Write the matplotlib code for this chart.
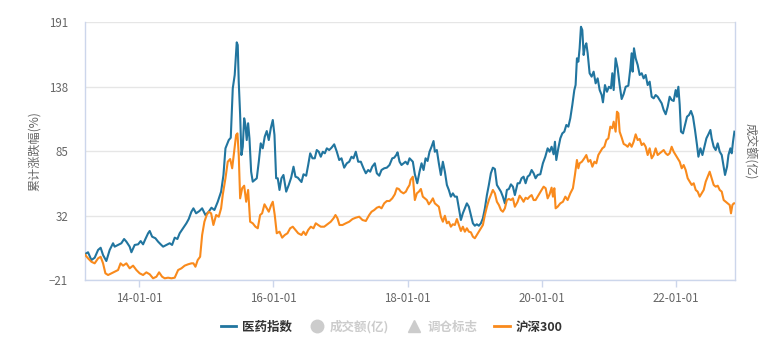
import matplotlib
matplotlib.use("Agg")
import matplotlib.pyplot as plt
from matplotlib.lines import Line2D

plt.rcParams['font.family'] = ['Noto Sans CJK SC', 'DejaVu Sans']

# ---------------- data (time in decimal years, values in %) ----------------
pharma_t = [
    2013.184, 2013.234, 2013.284, 2013.333, 2013.384, 2013.422, 2013.458, 2013.507, 2013.557, 2013.607,
    2013.631, 2013.682, 2013.731, 2013.772, 2013.806, 2013.855, 2013.881, 2013.930, 2013.981, 2014.019,
    2014.055, 2014.090, 2014.130, 2014.154, 2014.190, 2014.239, 2014.279, 2014.318, 2014.354, 2014.403,
    2014.452, 2014.488, 2014.527, 2014.567, 2014.601, 2014.652, 2014.701, 2014.736, 2014.776, 2014.806,
    2014.846, 2014.896, 2014.936, 2014.985, 2015.034, 2015.075, 2015.119, 2015.169, 2015.219, 2015.254,
    2015.284, 2015.303, 2015.333, 2015.363, 2015.393, 2015.422, 2015.452, 2015.467, 2015.482, 2015.503,
    2015.522, 2015.542, 2015.563, 2015.582, 2015.601, 2015.622, 2015.642, 2015.667, 2015.691, 2015.721,
    2015.751, 2015.781, 2015.810, 2015.840, 2015.870, 2015.900, 2015.930, 2015.960, 2015.990, 2016.015,
    2016.040, 2016.064, 2016.090, 2016.119, 2016.149, 2016.190, 2016.228, 2016.264, 2016.299, 2016.328,
    2016.363, 2016.418,
    2016.448, 2016.488, 2016.518, 2016.548, 2016.582, 2016.616, 2016.646, 2016.676, 2016.706, 2016.736,
    2016.766, 2016.796, 2016.831, 2016.866, 2016.906, 2016.945, 2016.981, 2017.015, 2017.055, 2017.094,
    2017.130, 2017.164, 2017.194, 2017.228, 2017.264, 2017.303, 2017.343, 2017.378, 2017.413, 2017.443,
    2017.473, 2017.512, 2017.542, 2017.578, 2017.612, 2017.652, 2017.691, 2017.731, 2017.772, 2017.801,
    2017.831, 2017.851, 2017.881, 2017.910, 2017.940, 2017.970, 2018.000, 2018.030,
    2018.079, 2018.109, 2018.145, 2018.179, 2018.209, 2018.239, 2018.269, 2018.299, 2018.328, 2018.358,
    2018.388, 2018.407, 2018.437, 2018.467, 2018.497, 2018.527, 2018.557, 2018.587, 2018.616, 2018.646,
    2018.676, 2018.706, 2018.736, 2018.766, 2018.796, 2018.825, 2018.855, 2018.885, 2018.915, 2018.945,
    2018.975, 2019.004, 2019.034, 2019.064, 2019.094, 2019.124, 2019.154, 2019.184, 2019.213, 2019.243,
    2019.273, 2019.303, 2019.333, 2019.363, 2019.393, 2019.422, 2019.452, 2019.482, 2019.512, 2019.542,
    2019.572, 2019.601, 2019.642,
    2019.672, 2019.701, 2019.731, 2019.761, 2019.791, 2019.821, 2019.851, 2019.881, 2019.910, 2019.940,
    2019.981, 2020.019, 2020.055, 2020.090, 2020.119, 2020.149, 2020.179, 2020.199, 2020.219, 2020.249,
    2020.279, 2020.309, 2020.339, 2020.369, 2020.399, 2020.428, 2020.458, 2020.488, 2020.507, 2020.527,
    2020.548, 2020.567, 2020.587, 2020.607, 2020.627, 2020.646, 2020.667, 2020.687, 2020.716, 2020.746,
    2020.776, 2020.806, 2020.836, 2020.866, 2020.896, 2020.915, 2020.945, 2020.975, 2021.004, 2021.034,
    2021.055, 2021.075, 2021.104, 2021.134, 2021.164, 2021.194, 2021.224, 2021.254, 2021.294, 2021.324,
    2021.343, 2021.358, 2021.378, 2021.403, 2021.433, 2021.463, 2021.493, 2021.522, 2021.552, 2021.582,
    2021.612, 2021.642, 2021.672, 2021.701, 2021.731, 2021.761, 2021.791, 2021.821, 2021.851, 2021.881,
    2021.910, 2021.940, 2021.970, 2022.000, 2022.019, 2022.040, 2022.060, 2022.079, 2022.109, 2022.139,
    2022.169, 2022.199, 2022.228, 2022.258, 2022.288, 2022.318, 2022.339, 2022.369, 2022.399, 2022.428,
    2022.458, 2022.488, 2022.518, 2022.537, 2022.567, 2022.597, 2022.627, 2022.657, 2022.687, 2022.716,
    2022.736, 2022.766, 2022.787, 2022.816, 2022.836, 2022.855, 2022.876,
]
pharma_v = [
    0.1, 1.8, -4.6, -2.7, 3.7, 5.5, -0.5, -5.4, 3.7, 9.2,
    6.4, 7.8, 9.2, 12.7, 10.5, 6.4, 1.8, 7.8, 8.3, 11.0,
    8.3, 12.7, 17.4, 19.3, 14.6, 13.3, 10.5, 8.3, 6.4, 7.8,
    9.2, 7.8, 13.8, 12.7, 17.4, 21.5, 25.6, 29.1, 35.1, 37.9,
    33.8, 35.7, 37.9, 32.4, 35.1, 38.4, 36.5, 43.3, 51.6, 65.3,
    87.2, 89.9, 94.0, 95.9, 136.5, 147.5, 174.3, 172.1, 141.9, 114.6,
    81.7, 88.5, 111.9, 106.4, 94.0, 107.8, 95.4, 68.0, 59.8, 61.2,
    62.6, 76.2, 91.3, 87.2, 96.8, 101.4, 94.0, 103.7, 110.5, 98.2,
    62.6, 62.6, 53.0, 62.6, 65.3, 51.6, 57.1, 63.1, 72.1, 63.9,
    63.1, 59.5,
    65.9, 64.7, 73.5, 83.1, 79.0, 79.0, 85.8, 84.4, 80.3, 84.4,
    83.1, 87.2, 85.8, 87.7, 90.5, 84.4, 77.6, 79.0, 71.3, 74.9,
    76.2, 80.3, 79.0, 84.4, 76.2, 76.2, 70.8, 66.7, 69.4, 68.0,
    72.1, 74.9, 66.7, 64.7, 69.4, 70.8, 71.3, 73.5, 79.0, 79.5,
    81.7, 83.9, 76.2, 73.5, 74.9, 76.2, 74.1, 79.0,
    76.2, 65.9, 58.5, 68.0, 74.9, 69.4, 79.0, 76.8, 84.4, 88.5,
    93.2, 84.4, 85.8, 74.9, 65.3, 76.2, 68.0, 57.1, 53.0, 47.5,
    50.2, 47.5, 47.5, 37.9, 28.3, 33.8, 37.9, 42.0, 39.2, 32.4,
    25.6, 23.6, 24.8, 23.6, 25.6, 29.7, 37.9, 48.8, 57.1, 66.7,
    71.3, 70.2, 57.1, 54.4, 51.6, 47.5, 42.0, 53.0, 53.8, 57.6,
    55.7, 48.8, 58.5,
    58.5, 62.6, 63.9, 58.5, 63.9, 65.3, 69.4, 66.7, 62.6, 65.3,
    65.9, 74.9, 80.3, 87.2, 84.4, 88.5, 82.3, 92.6, 77.6, 87.2,
    95.4, 99.5, 100.9, 106.4, 105.0, 111.9, 122.8, 135.1, 139.2, 161.2,
    158.4, 169.4, 187.1, 184.4, 163.9, 170.7, 173.5, 165.3, 148.9, 146.1,
    150.2, 140.6, 144.7, 135.1, 131.0, 125.0, 139.2, 133.7, 137.8, 136.5,
    148.9, 135.1, 161.2, 153.0, 139.2, 127.7, 131.8, 137.8, 138.7, 153.0,
    165.3, 150.2, 169.4, 161.2, 155.7, 147.5, 148.9, 144.7, 147.5, 139.2,
    142.0, 129.6, 128.3, 131.0, 129.6, 126.9, 124.2, 118.7, 115.2, 121.4,
    129.6, 126.9, 126.1, 135.1, 129.6, 137.8, 122.8, 100.9, 99.5, 106.4,
    113.2, 114.6, 117.9, 113.2, 102.3, 89.9, 80.3, 87.2, 81.7, 88.5,
    95.4, 98.7, 102.3, 95.4, 88.5, 85.8, 91.3, 84.4, 81.7, 72.1,
    65.3, 72.1, 81.7, 87.2, 83.1, 92.6, 100.9,
]

hs300_t = [
    2013.184, 2013.234, 2013.284, 2013.333, 2013.384, 2013.422, 2013.458, 2013.493, 2013.533, 2013.582,
    2013.631, 2013.682, 2013.719, 2013.757, 2013.806, 2013.855, 2013.906, 2013.955, 2014.004, 2014.055,
    2014.104, 2014.154, 2014.204, 2014.254, 2014.294, 2014.339, 2014.378, 2014.428, 2014.478, 2014.527,
    2014.578, 2014.627, 2014.676, 2014.727, 2014.776, 2014.806,
    2014.836, 2014.870, 2014.906, 2014.936, 2014.970, 2015.004, 2015.034, 2015.070, 2015.104, 2015.145,
    2015.184, 2015.219, 2015.243, 2015.284, 2015.318, 2015.354, 2015.384, 2015.413, 2015.443, 2015.463,
    2015.482, 2015.503, 2015.533, 2015.563, 2015.593, 2015.622, 2015.652, 2015.691, 2015.731, 2015.766,
    2015.801, 2015.831, 2015.866, 2015.900, 2015.930, 2015.966, 2015.990, 2016.019, 2016.049, 2016.090,
    2016.130, 2016.169, 2016.209, 2016.249, 2016.288, 2016.328, 2016.369, 2016.418,
    2016.448, 2016.482, 2016.518, 2016.557, 2016.597, 2016.631, 2016.667, 2016.706, 2016.757, 2016.806,
    2016.855, 2016.896, 2016.925, 2016.955, 2016.985, 2017.030, 2017.079, 2017.130, 2017.179, 2017.228,
    2017.279, 2017.328, 2017.378, 2017.428, 2017.463, 2017.503, 2017.542, 2017.578, 2017.612, 2017.652,
    2017.691, 2017.731, 2017.772, 2017.810, 2017.840, 2017.870, 2017.900, 2017.940, 2017.975, 2018.000,
    2018.030,
    2018.045, 2018.079, 2018.109, 2018.139, 2018.169, 2018.199, 2018.228, 2018.258, 2018.288, 2018.318,
    2018.348, 2018.378, 2018.407, 2018.437, 2018.467, 2018.497, 2018.527, 2018.557, 2018.587, 2018.616,
    2018.646, 2018.676, 2018.706, 2018.736, 2018.766, 2018.796, 2018.825, 2018.855, 2018.885, 2018.915,
    2018.945, 2018.975, 2019.004, 2019.034, 2019.064, 2019.094, 2019.124, 2019.154, 2019.184, 2019.213,
    2019.243, 2019.273, 2019.303, 2019.333, 2019.363, 2019.393, 2019.422, 2019.452, 2019.482, 2019.512,
    2019.542, 2019.572, 2019.601, 2019.642,
    2019.672, 2019.701, 2019.731, 2019.761, 2019.791, 2019.821, 2019.851, 2019.881, 2019.910, 2019.940,
    2019.970, 2020.000, 2020.030, 2020.060, 2020.090, 2020.119, 2020.149, 2020.169, 2020.190, 2020.209,
    2020.239, 2020.279, 2020.318, 2020.354, 2020.388, 2020.428, 2020.467, 2020.497, 2020.527, 2020.548,
    2020.567, 2020.601, 2020.637, 2020.667, 2020.697, 2020.727, 2020.757, 2020.787, 2020.816, 2020.846,
    2020.876, 2020.906, 2020.936, 2020.966, 2020.996, 2021.025, 2021.055, 2021.075, 2021.104, 2021.124,
    2021.145, 2021.164, 2021.194, 2021.224, 2021.254, 2021.284, 2021.313, 2021.343, 2021.373, 2021.403,
    2021.433, 2021.463, 2021.493, 2021.522, 2021.552, 2021.582, 2021.612, 2021.642, 2021.672, 2021.701,
    2021.731, 2021.761, 2021.791, 2021.821, 2021.851, 2021.881, 2021.910, 2021.940, 2021.970, 2022.000,
    2022.030, 2022.060, 2022.090, 2022.119, 2022.149, 2022.179, 2022.209, 2022.239, 2022.269, 2022.299,
    2022.328, 2022.358, 2022.388, 2022.418, 2022.448, 2022.478, 2022.507, 2022.537, 2022.567, 2022.597,
    2022.627, 2022.657, 2022.687, 2022.716, 2022.746, 2022.776, 2022.806, 2022.825, 2022.846, 2022.866,
    2022.885,
]
hs300_v = [
    0.1, -3.2, -6.0, -7.3, -3.2, -1.9, -7.3, -15.5, -16.9, -15.5,
    -14.2, -12.8, -7.3, -9.2, -7.3, -11.4, -9.2, -12.8, -15.5, -16.9,
    -14.7, -16.3, -19.6, -18.3, -14.7, -18.3, -19.6, -19.1, -19.6, -19.1,
    -12.8, -11.4, -9.2, -8.1, -7.3, -7.3,
    -10.1, -4.6, -1.9, 16.0, 26.9, 32.4, 35.1, 33.8, 24.2, 32.4,
    31.0, 37.9, 48.8, 62.6, 76.2, 78.4, 70.8, 84.4, 98.2, 99.5,
    81.7, 46.1, 54.4, 56.5, 43.3, 53.0, 26.9, 25.6, 22.8, 21.5,
    32.4, 33.8, 41.2, 37.9, 35.1, 40.6, 43.3, 32.4, 17.4, 18.7,
    13.8, 16.0, 17.4, 21.5, 22.8, 20.1, 17.4, 16.0,
    18.7, 16.0, 20.1, 22.8, 21.5, 25.6, 24.2, 22.8, 22.8, 24.8,
    26.9, 29.7, 32.4, 29.7, 24.2, 24.2, 25.6, 26.9, 29.1, 30.2,
    31.0, 28.3, 27.5, 32.4, 35.1, 36.5, 38.4, 39.2, 37.9, 42.0,
    43.9, 43.9, 46.1, 49.4, 54.4, 53.8, 51.6, 50.2, 51.6, 54.4,
    57.1,
    61.2, 63.9, 44.7, 50.2, 51.6, 53.8, 47.5, 46.1, 44.7, 41.2,
    43.3, 46.1, 42.0, 40.6, 39.2, 31.0, 26.9, 31.8, 25.6, 26.9,
    22.8, 24.8, 24.2, 29.1, 24.2, 19.3, 22.8, 18.7, 21.5, 18.7,
    18.2, 14.6, 13.3, 16.0, 18.7, 21.5, 24.2, 32.4, 39.2, 44.7,
    48.8, 53.0, 50.2, 43.3, 40.6, 36.5, 35.1, 37.9, 44.7, 45.6,
    44.7, 46.1, 39.2, 43.3,
    48.3, 46.1, 43.3, 46.6, 45.6, 47.5, 48.8, 44.7, 44.7, 47.5,
    50.2, 53.0, 55.7, 54.4, 46.1, 49.4, 54.9, 47.5, 54.4, 37.9,
    39.2, 42.0, 43.3, 47.5, 44.7, 50.2, 54.4, 65.3, 77.6, 70.8,
    74.9, 76.2, 79.0, 81.7, 76.2, 77.6, 72.1, 76.2, 74.9, 81.7,
    84.4, 87.2, 88.5, 94.0, 95.4, 105.0, 103.7, 109.1, 100.9, 117.3,
    116.0, 100.9, 96.1, 90.8, 89.9, 88.5, 91.3, 88.5, 92.6, 98.7,
    94.0, 94.9, 89.9, 91.3, 88.5, 81.7, 87.2, 79.0, 81.7, 87.2,
    81.7, 83.1, 84.4, 85.8, 83.1, 81.7, 83.1, 88.5, 84.4, 81.7,
    79.0, 76.2, 70.8, 73.5, 69.4, 62.6, 59.8, 57.1, 58.5, 53.0,
    51.6, 47.5, 50.2, 53.0, 59.8, 63.9, 68.0, 62.6, 57.1, 55.7,
    56.5, 53.0, 51.6, 44.7, 43.3, 42.0, 40.6, 33.8, 40.6, 42.0,
    42.0,
]

x_ticks = [2014, 2016, 2018, 2020, 2022]
x_tick_labels = ['14-01-01', '16-01-01', '18-01-01', '20-01-01', '22-01-01']
y_ticks = [-21, 32, 85, 138, 191]

series_names = ['医药指数', '成交额(亿)', '调仓标志', '沪深300']

# ---------------- styling ----------------
BLUE = '#21759f'
ORANGE = '#f98a1c'
AXIS = '#ccd6eb'
GRID = '#e6e6e6'
LABEL = '#666666'

fig = plt.figure(figsize=(7.65, 3.5), dpi=100)
ax = fig.add_axes([0.1107, 0.2, 0.9608 - 0.1107, 0.9371 - 0.2])

ax.plot(pharma_t, pharma_v, color=BLUE, lw=1.5, solid_joinstyle='round', zorder=3)
ax.plot(hs300_t, hs300_v, color=ORANGE, lw=1.5, solid_joinstyle='round', zorder=3)

ax.set_xlim(pharma_t[0], hs300_t[-1])
ax.set_ylim(y_ticks[0], y_ticks[-1])
ax.set_yticks(y_ticks)
ax.set_xticks(x_ticks)
ax.set_xticklabels(x_tick_labels)

ax.grid(axis='y', color=GRID, lw=1)
ax.set_axisbelow(True)
ax.spines['top'].set_visible(False)
for s in ['left', 'bottom', 'right']:
    ax.spines[s].set_color(AXIS)
    ax.spines[s].set_linewidth(1)

ax.tick_params(axis='y', length=0, pad=12, labelsize=8.3, labelcolor=LABEL)
ax.tick_params(axis='x', length=5, width=1, color=AXIS, pad=4, labelsize=8.3, labelcolor=LABEL)

ax.set_ylabel('累计涨跌幅(%)', color=LABEL, fontsize=8.7, labelpad=6)
fig.text(0.980, 0.5686, '成交额(亿)', rotation=-90, color=LABEL, fontsize=8.7,
         ha='center', va='center')

handles = [
    Line2D([], [], color=BLUE, lw=2),
    Line2D([], [], color='#cccccc', marker='o', ls='', markersize=9),
    Line2D([], [], color='#cccccc', marker='^', ls='', markersize=9),
    Line2D([], [], color=ORANGE, lw=2),
]
leg = fig.legend(handles, series_names, loc='center', bbox_to_anchor=(0.512, 0.066),
                 ncol=4, frameon=False, handlelength=1.25, handletextpad=0.45,
                 columnspacing=1.35, prop={'size': 9, 'weight': 'bold'})
text_colors = ['#333333', '#cccccc', '#cccccc', '#333333']
for txt, c in zip(leg.get_texts(), text_colors):
    txt.set_color(c)

fig.savefig('out.png', dpi=100)
